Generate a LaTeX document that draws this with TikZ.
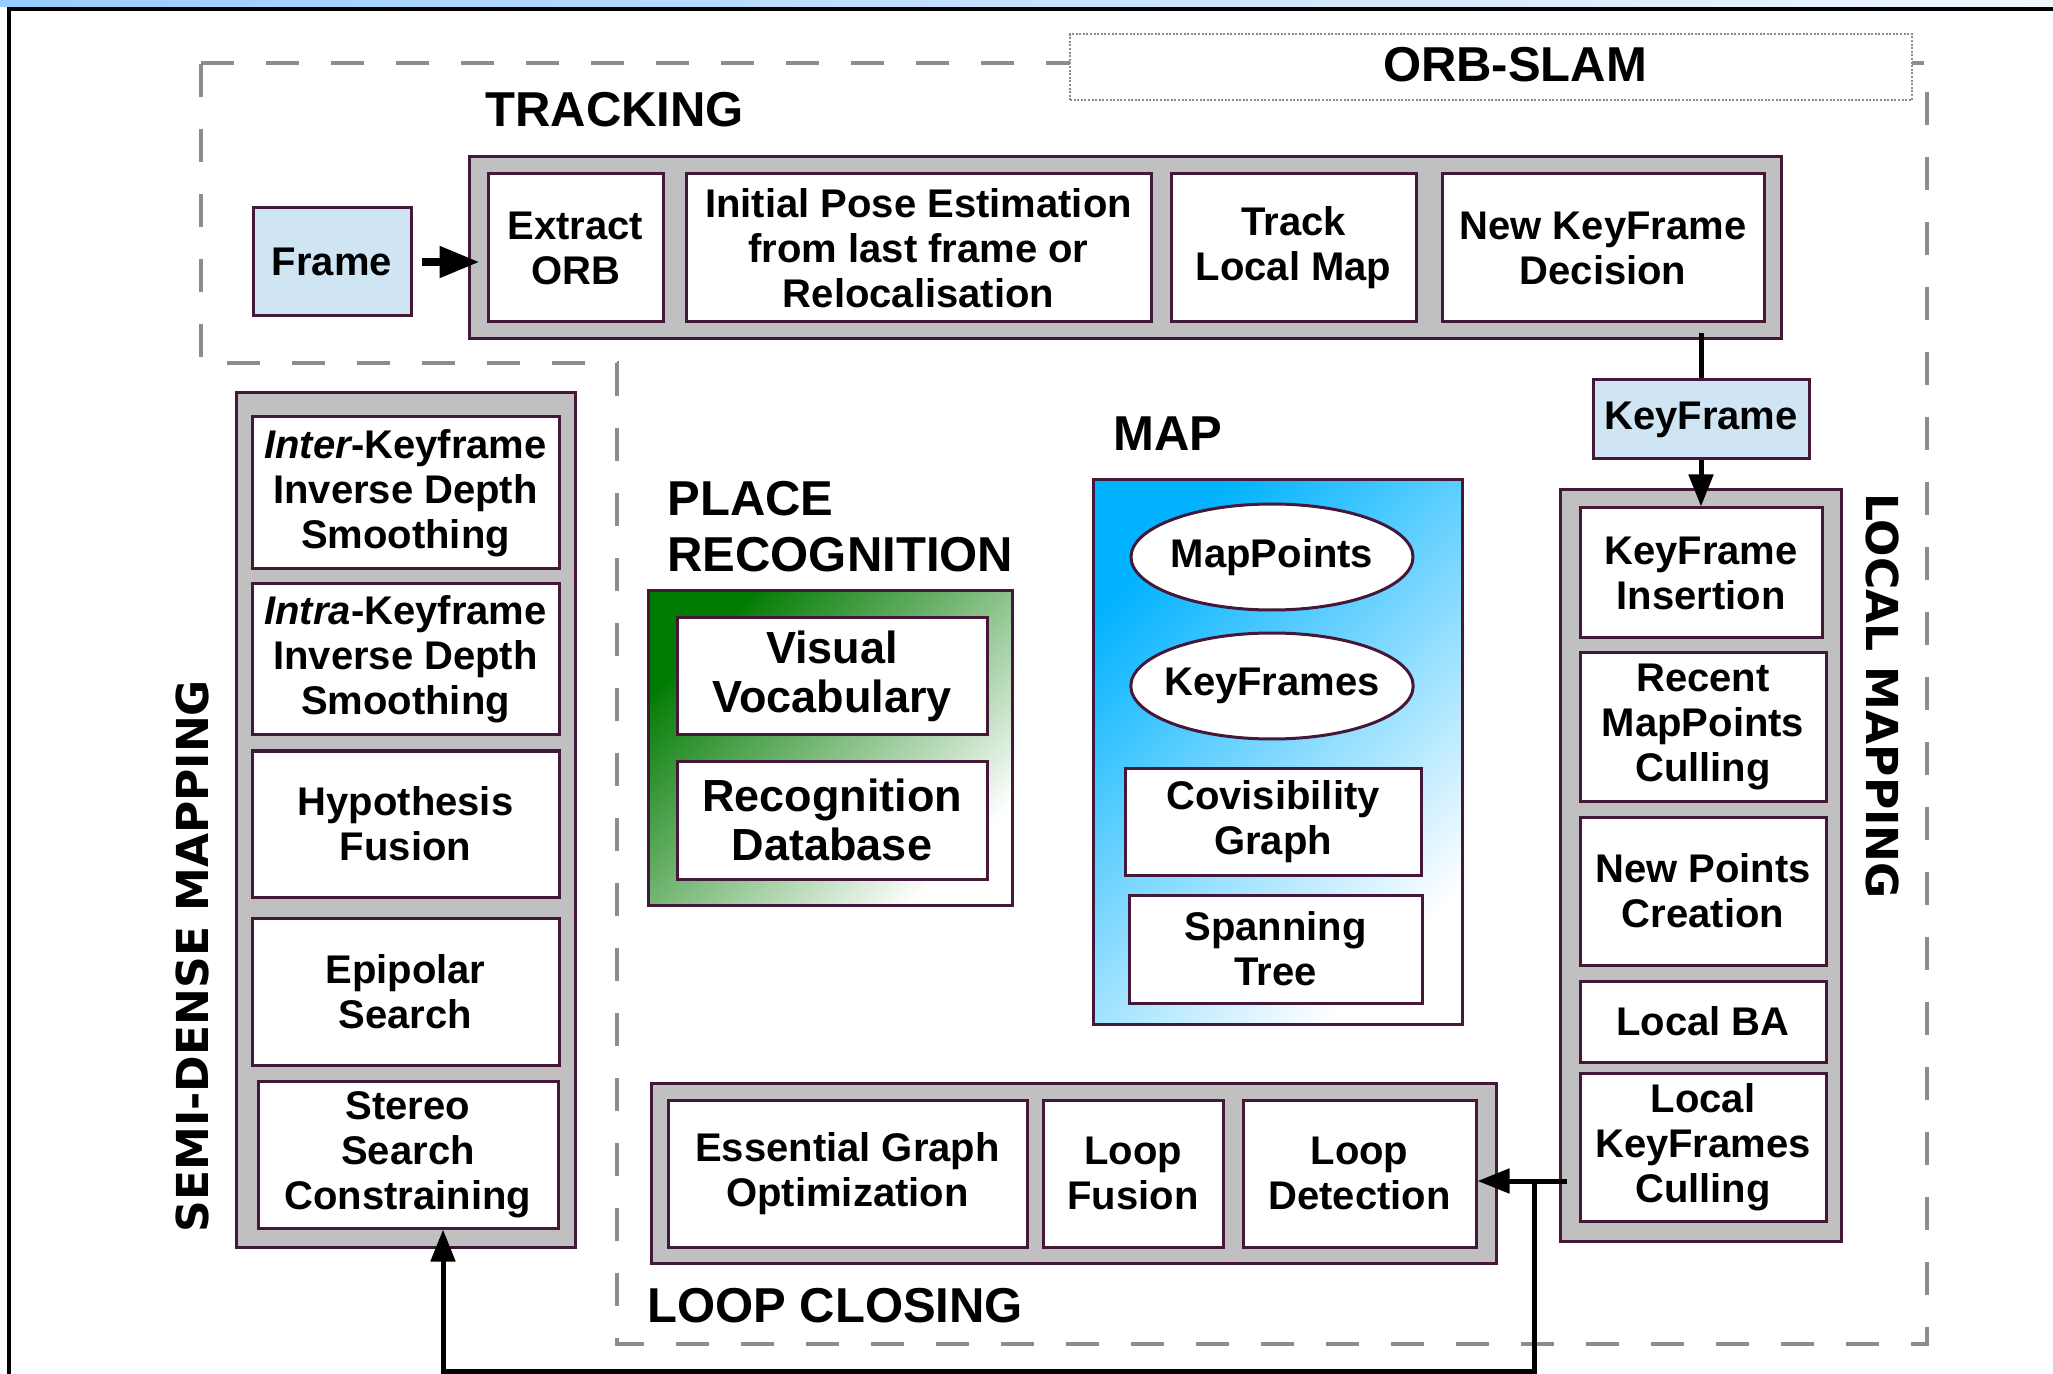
\documentclass[tikz,border=0pt]{standalone}
\usepackage{fontspec}
\setmainfont{Liberation Sans}
\newfontfamily\djv{DejaVu Sans}
\usetikzlibrary{arrows.meta,calc,shapes.geometric}
\definecolor{bord}{HTML}{45183A}
\definecolor{grayfill}{HTML}{C0C0C0}
\definecolor{lblue}{HTML}{CFE5F3}
\definecolor{dgray}{HTML}{8C8C8C}
\definecolor{pgreen}{HTML}{007A00}
\definecolor{mblue}{HTML}{00B2FF}
\definecolor{topblue}{HTML}{99CCFF}
\tikzset{
  box/.style={draw=bord, line width=1.5pt, fill=white, align=center, inner sep=0pt,
    font=\fontsize{20pt}{22.5pt}\selectfont\bfseries},
  bigbox/.style={box, font=\fontsize{22.5pt}{24.5pt}\selectfont\bfseries},
  oval/.style={box, ellipse, inner xsep=-4pt},
  cont/.style={draw=bord, line width=1.5pt, fill=grayfill, inner sep=0pt},
  lbl/.style={inner sep=0pt, font=\fontsize{24.5pt}{28pt}\selectfont\bfseries},
  rlbl/.style={inner sep=0pt, font=\djv\bfseries\fontsize{22pt}{26pt}\selectfont},
  conn/.style={line width=2.5pt, black},
  tipa/.style={-{Triangle[length=16pt,width=12pt]}},
}
\begin{document}
\begin{tikzpicture}[x=0.5pt,y=-0.5pt]
\useasboundingbox (0,0) rectangle (2053,1374);
% slide decoration
\shade[left color=topblue, right color=topblue!15!white] (0,0) rectangle (2053,7);
\draw[line width=2pt] (9,1374) -- (9,9) -- (2053,9);

% ORB-SLAM outer dashed frame
\draw[dgray, line width=1.75pt, dash pattern=on 16.5pt off 16pt]
  (201,63) -- (1927,63) -- (1927,1344) -- (617,1344) -- (617,363) -- (201,363) -- cycle;
\node[draw=dgray, line width=1pt, dash pattern=on 1pt off 0.8pt, fill=white,
  minimum width=421pt, minimum height=33pt, inner sep=0pt] (orbbox) at (1491,67) {};
\node[lbl, anchor=base] (orbl) at (1515,82) {ORB-SLAM};

% labels
\node[lbl, anchor=base west] (trl) at (485,127) {TRACKING};
\node[lbl, anchor=base west] (prl1) at (667,516) {PLACE};
\node[lbl, anchor=base west] (prl2) at (667,572) {RECOGNITION};
\node[lbl, anchor=base west] (mapl) at (1113,451) {MAP};
\node[lbl, anchor=base west] (lcl) at (647,1322) {LOOP CLOSING};
\node[rlbl, rotate=90] (sdml) at (192,956) {SEMI-DENSE MAPPING};
\node[rlbl, rotate=-90] (lml) at (1883,696) {LOCAL MAPPING};

% containers
\node[cont, minimum width=656pt, minimum height=91pt] (track) at (1125,248) {};
\node[cont, minimum width=169.5pt, minimum height=427pt] (sdm) at (405.5,820) {};
\node[cont, minimum width=140.5pt, minimum height=375.5pt] (lm) at (1700.5,865.5) {};
\node[cont, minimum width=422.5pt, minimum height=90pt] (lc) at (1073.5,1173) {};
\node[draw=bord, line width=1.5pt, inner sep=0pt, top color=pgreen, bottom color=white,
  shading angle=45, minimum width=182pt, minimum height=157pt] (pr) at (830,748) {};
\node[draw=bord, line width=1.5pt, inner sep=0pt, top color=mblue, bottom color=white,
  shading angle=45, minimum width=184.5pt, minimum height=272pt] (map) at (1277.5,752) {};

% tracking
\node[box, fill=lblue, minimum width=79pt, minimum height=54pt] (frame) at (332,262) {Frame};
\node[box, minimum width=87.5pt, minimum height=74pt] (eorb) at (575.5,248) {Extract\\ORB};
\node[box, minimum width=232.5pt, minimum height=74pt] (ipe) at (918.5,248) {Initial Pose Estimation\\from last frame or\\Relocalisation};
\node[box, minimum width=122.5pt, minimum height=74pt] (tlm) at (1293.5,248) {Track\\Local Map};
\node[box, minimum width=161pt, minimum height=74pt] (nkd) at (1603,248) {New KeyFrame\\Decision};
\node[box, fill=lblue, minimum width=108pt, minimum height=39.5pt] (kf) at (1701,419.5) {KeyFrame};

% semi-dense mapping
\node[box, minimum width=153.5pt, minimum height=76pt] (inter) at (405.5,493) {\itshape Inter\upshape-Keyframe\\Inverse Depth\\Smoothing};
\node[box, minimum width=153.5pt, minimum height=75.5pt] (intra) at (405.5,659.5) {\itshape Intra\upshape-Keyframe\\Inverse Depth\\Smoothing};
\node[box, minimum width=153.5pt, minimum height=73pt] (hyp) at (405.5,824) {Hypothesis\\Fusion};
\node[box, minimum width=153.5pt, minimum height=73.5pt] (epi) at (405.5,991.5) {Epipolar\\Search};
\node[box, minimum width=150pt, minimum height=73.5pt] (ssc) at (408,1154.5) {Stereo\\Search\\Constraining};

% place recognition
\node[bigbox, minimum width=155pt, minimum height=58.5pt] (vv) at (832,676.5) {Visual\\Vocabulary};
\node[bigbox, minimum width=155pt, minimum height=59pt] (rd) at (832,820) {Recognition\\Database};

% map
\node[oval, minimum width=141pt, minimum height=53pt] (mp) at (1272,557) {MapPoints};
\node[oval, minimum width=141pt, minimum height=53pt] (kfs) at (1272,686) {KeyFrames};
\node[box, minimum width=148pt, minimum height=53.5pt] (cg) at (1273,821.5) {Covisibility\\Graph};
\node[box, minimum width=146.5pt, minimum height=54pt] (st) at (1275.5,949) {Spanning\\Tree};

% local mapping
\node[box, minimum width=121pt, minimum height=65pt] (kfi) at (1701,573) {KeyFrame\\Insertion};
\node[box, minimum width=123pt, minimum height=74pt] (rmc) at (1703,727) {Recent\\MapPoints\\Culling};
\node[box, minimum width=123pt, minimum height=74pt] (npc) at (1703,891) {New Points\\Creation};
\node[box, minimum width=123pt, minimum height=40.5pt] (lba) at (1703,1021.5) {Local BA};
\node[box, minimum width=123pt, minimum height=74pt] (lkc) at (1703,1147) {Local\\KeyFrames\\Culling};

% loop closing
\node[box, minimum width=179.5pt, minimum height=73.5pt] (ego) at (847.5,1173.5) {Essential Graph\\Optimization};
\node[box, minimum width=90pt, minimum height=73.5pt] (lf) at (1133,1173.5) {Loop\\Fusion};
\node[box, minimum width=116.5pt, minimum height=73.5pt] (ld) at (1359.5,1173.5) {Loop\\Detection};

% connectors
\draw[line width=4pt, -{Triangle[length=20pt,width=15pt]}]
  ($(frame.east)+(9,0)$) -- ($(frame.east -| eorb.west)+(-7,0)$);
\draw[conn] ($(kf.north |- nkd.south)+(0,10)$) -- (kf.north);
\draw[conn, tipa] (kf.south) -- (kfi.north);
\coordinate (lsrc) at ($(lkc.west)+(-12,34)$);
\coordinate (jn) at ($(lsrc)+(-32,0)$);
\coordinate (bot) at ($(jn)+(0,190)$);
\draw[conn, tipa] (lsrc) -- (lsrc -| ld.east);
\draw[conn, tipa] (jn) -- (bot) -| ($(ssc.south)+(35,0)$);
\end{tikzpicture}
\end{document}
